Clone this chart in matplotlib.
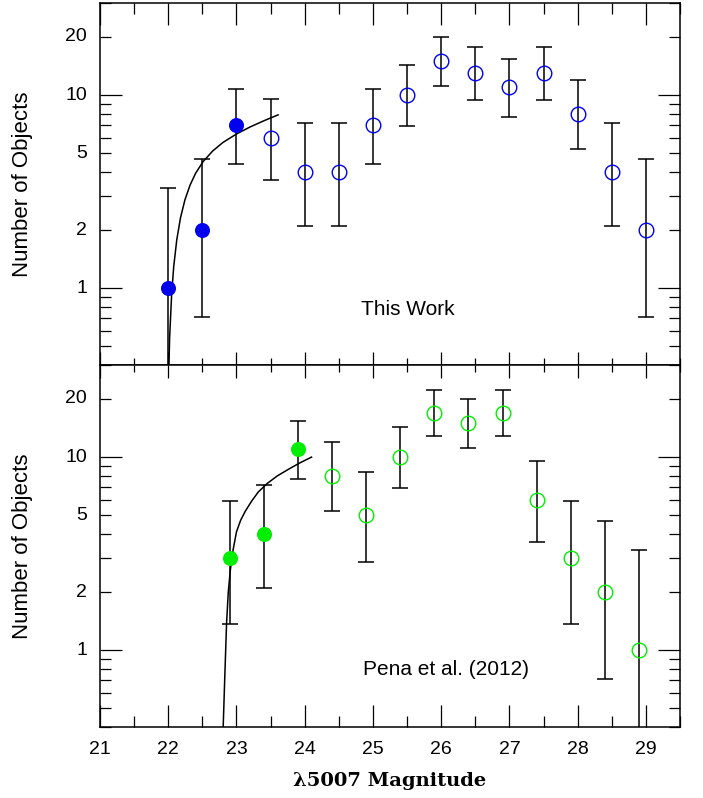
import matplotlib
matplotlib.use("Agg")
import matplotlib.pyplot as plt
from matplotlib.ticker import FixedLocator, NullFormatter

# ---- data ----
# top panel: "This Work"
top_mag = [22.0, 22.5, 23.0, 23.5, 24.0, 24.5, 25.0, 25.5, 26.0, 26.5, 27.0, 27.5, 28.0, 28.5, 29.0]
top_n = [1, 2, 7, 6, 4, 4, 7, 10, 15, 13, 11, 13, 8, 4, 2]
top_lo = [0.17, 0.71, 4.42, 3.63, 2.09, 2.09, 4.42, 6.90, 11.17, 9.44, 7.74, 9.44, 5.24, 2.09, 0.71]
top_hi = [3.32, 4.66, 10.78, 9.60, 7.18, 7.18, 10.78, 14.28, 19.97, 17.71, 15.43, 17.71, 11.96, 7.18, 4.66]
top_filled = 3  # first three points are solid

top_curve_mag = [22.0, 22.02, 22.05, 22.08, 22.125, 22.18, 22.245, 22.32, 22.4, 22.51,
                 22.65, 22.8, 23.0, 23.2, 23.4, 23.61]
top_curve_n = [0.28, 0.55, 0.93, 1.29, 1.78, 2.32, 2.87, 3.42, 3.93, 4.52,
               5.13, 5.68, 6.29, 6.84, 7.36, 7.9]

# bottom panel: Pena et al. (2012)
bot_mag = [22.9, 23.4, 23.9, 24.4, 24.9, 25.4, 25.9, 26.4, 26.9, 27.4, 27.9, 28.4, 28.9]
bot_n = [3, 4, 11, 8, 5, 10, 17, 15, 17, 6, 3, 2, 1]
bot_lo = [1.37, 2.09, 7.74, 5.24, 2.85, 6.90, 12.92, 11.17, 12.92, 3.63, 1.37, 0.71, 0.17]
bot_hi = [5.94, 7.18, 15.43, 11.96, 8.40, 14.28, 22.21, 19.97, 22.21, 9.60, 5.94, 4.66, 3.32]
bot_filled = 3

bot_curve_mag = [22.80, 22.83, 22.855, 22.88, 22.91, 22.95, 23.0, 23.06, 23.13, 23.22,
                 23.32, 23.45, 23.6, 23.75, 23.92, 24.1]
bot_curve_n = [0.35, 0.75, 1.38, 2.0, 2.6, 3.3, 4.1, 4.7, 5.25, 5.9,
               6.6, 7.3, 8.0, 8.6, 9.3, 10.0]

y_ticks = [1, 2, 5, 10, 20]
y_labels = ["1", "2", "5", "10", "20"]
y_minor = [0.4, 0.5, 0.6, 0.7, 0.8, 0.9, 2, 3, 4, 5, 6, 7, 8, 9, 20, 30]
x_major = list(range(21, 30))
x_minor = [21.5, 22.5, 23.5, 24.5, 25.5, 26.5, 27.5, 28.5, 29.5]

plt.rcParams['font.family'] = ['Liberation Sans', 'DejaVu Sans']

fig = plt.figure(figsize=(7.03, 7.98), dpi=100)
ax1 = fig.add_axes([100 / 703, 1 - 365 / 798, 580 / 703, 362 / 798])
ax2 = fig.add_axes([100 / 703, 1 - 727 / 798, 580 / 703, 362 / 798], sharex=ax1)


def draw_panel(ax, mag, n, lo, hi, nfill, cmag, cn, color, outer):
    yerr = [[v - l for v, l in zip(n, lo)], [h - v for v, h in zip(n, hi)]]
    ax.errorbar(mag, n, yerr=yerr, fmt='none', ecolor='black', elinewidth=1.1,
                capsize=5.8, capthick=1.1, zorder=2)
    ax.plot(mag[:nfill], n[:nfill], 'o', color=color, ms=9.8, mec=color, zorder=3)
    ax.plot(mag[nfill:], n[nfill:], 'o', mfc='none', mec=color, ms=10.5, mew=1.0, zorder=3)
    ax.plot(cmag, cn, color='black', lw=1.1, zorder=1)

    ax.set_yscale('log')
    ax.set_ylim(0.4, 30)
    ax.set_xlim(21, 29.5)
    ax.yaxis.set_major_locator(FixedLocator([1, 10]))
    ax.yaxis.set_minor_locator(FixedLocator(y_minor))
    ax.yaxis.set_major_formatter(NullFormatter())
    ax.yaxis.set_minor_formatter(NullFormatter())
    for t, s in zip(y_ticks, y_labels):
        ax.text(-0.022, t, s, transform=ax.get_yaxis_transform(), ha='right', va='center',
                fontsize=14)
    ax.tick_params(axis='y', which='both', direction='in', left=True, right=True,
                   width=0.9, labelleft=False)
    ax.tick_params(axis='y', which='major', length=15.5)
    ax.tick_params(axis='y', which='minor', length=8)

    ax.xaxis.set_major_locator(FixedLocator(x_major))
    ax.xaxis.set_minor_locator(FixedLocator(x_minor))
    # long ticks on the outer edge, short ticks on the shared edge
    ax.tick_params(axis='x', which='both', direction='in', width=0.9,
                   bottom=(outer == 'bottom'), top=(outer == 'top'), labelbottom=False)
    ax.tick_params(axis='x', which='major', length=15.5)
    ax.tick_params(axis='x', which='minor', length=8)
    sec = ax.secondary_xaxis('bottom' if outer == 'top' else 'top')
    sec.xaxis.set_major_locator(FixedLocator(x_major))
    sec.xaxis.set_minor_locator(FixedLocator(x_minor))
    sec.tick_params(axis='x', which='both', direction='in', width=0.9,
                    labelbottom=False, labeltop=False)
    sec.tick_params(axis='x', which='major', length=9.5)
    sec.tick_params(axis='x', which='minor', length=5)
    for sp in sec.spines.values():
        sp.set_visible(False)

    for sp in ax.spines.values():
        sp.set_linewidth(1.1)

    ax.set_ylabel("Number of Objects", fontsize=16)
    ax.yaxis.set_label_coords(-0.116, 0.5)


draw_panel(ax1, top_mag, top_n, top_lo, top_hi, top_filled, top_curve_mag, top_curve_n,
           '#0000ee', 'top')
draw_panel(ax2, bot_mag, bot_n, bot_lo, bot_hi, bot_filled, bot_curve_mag, bot_curve_n,
           '#00ee00', 'bottom')

ax1.text(25.51, 0.776, "This Work", fontsize=15, ha='center', va='center')
ax2.text(26.07, 0.79, "Pena et al. (2012)", fontsize=15, ha='center', va='center')

ax2.tick_params(axis='x', labelbottom=True, labelsize=14, pad=10)
ax2.set_xlabel("\u03bb5007 Magnitude", fontsize=14, fontweight='bold',
               family=['DejaVu Serif'], labelpad=10)

fig.savefig("out.png", dpi=100)
